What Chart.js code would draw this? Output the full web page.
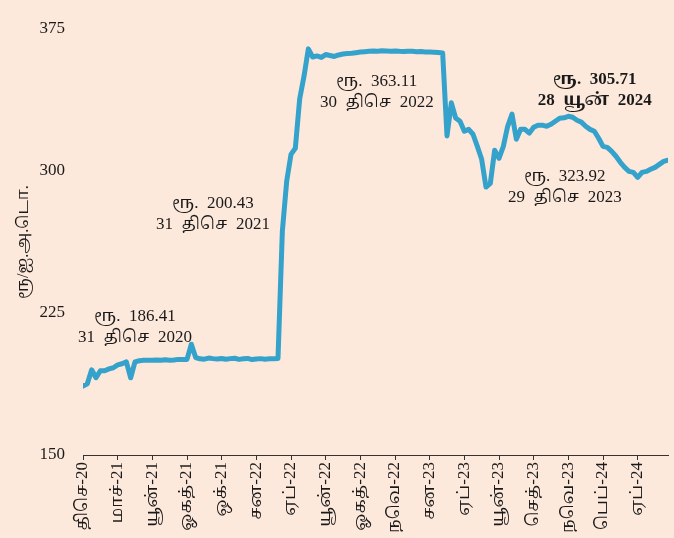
<!DOCTYPE html>
<html>
<head>
<meta charset="utf-8">
<script src="https://cdn.jsdelivr.net/npm/chart.js@4.4.1/dist/chart.umd.min.js"></script>
<style>
    html, body { margin: 0; padding: 0; background: #fde9dc; }
    #wrap { width: 674px; height: 538px; }
</style>
</head>
<body>
<div id="wrap"><canvas id="chart" width="674" height="538"></canvas></div>
<script>
// Data
const tickLabels = ['திசெ-20', 'மாச்-21', 'யூன்-21', 'ஓகத்-21', 'ஒக்-21', 'சன-22', 'ஏப்-22', 'யூன்-22', 'ஓகத்-22',
    'நவெ-22', 'சன-23', 'ஏப்-23', 'யூன்-23', 'செத்-23', 'நவெ-23', 'பெப்-24', 'ஏப்-24'];
const pointsPerTick = 8;

// Rs per US$ (roughly weekly)
const rates = [
    186.4, 187.6, 195.0, 190.8, 194.5, 194.5, 195.5, 196.1, 197.6, 198.2,
    199.2, 190.8, 199.2, 199.8, 200.0, 200.1, 200.0, 200.2, 200.0, 200.3,
    200.1, 200.2, 200.5, 200.4, 200.5, 208.5, 201.5, 200.8, 200.6, 201.2,
    200.9, 200.7, 201.0, 200.6, 200.9, 201.1, 200.5, 200.8, 201.0, 200.4,
    200.7, 200.9, 200.6, 200.8, 200.9, 201.0, 268.0, 294.5, 308.8, 312.0,
    338.0, 350.0, 364.5, 360.2, 360.8, 360.0, 361.5, 361.0, 360.5, 361.3,
    361.8, 362.0, 362.2, 362.5, 362.8, 363.0, 363.2, 363.4, 363.3, 363.5,
    363.4, 363.3, 363.4, 363.2, 363.1, 363.3, 363.2, 363.0, 363.1, 362.9,
    362.8, 362.7, 362.6, 362.3, 318.5, 336.0, 328.0, 326.3, 321.0, 322.0,
    319.4, 313.0, 306.2, 291.5, 293.5, 311.0, 306.7, 313.0, 323.6, 330.0,
    316.8, 322.0, 322.0, 320.0, 323.1, 324.2, 324.2, 323.6, 324.7, 326.3,
    327.9, 328.1, 328.9, 328.4, 326.8, 325.8, 323.6, 322.0, 321.0, 317.3,
    313.0, 312.5, 310.4, 307.8, 304.6, 301.9, 299.8, 299.3, 296.6, 299.3,
    299.8, 300.9, 301.9, 303.5, 305.1, 305.7
];

// Callouts: two lines each, centred on (index, value) of the first line
const noteTexts = [
    ['ரூ.  186.41', '31  திசெ  2020'],
    ['ரூ.  200.43', '31  திசெ  2021'],
    ['ரூ.  363.11', '30  திசெ  2022'],
    ['ரூ.  323.92', '29  திசெ  2023'],
    ['ரூ.  305.71', '28  யூன்  2024']
];
const noteIndex = [12.0, 30.0, 67.8, 111.2, 118.1];
const noteValue = [223.1, 283.0, 347.5, 297.2, 348.4];
const noteBold = [false, false, false, false, true];

const serif = "'Liberation Serif', 'Noto Serif Tamil', 'Noto Sans Tamil', 'Lohit Tamil', 'Latha', serif";
const ink = '#1a1a1a';

const notesPlugin = {
    id: 'notes',
    afterDatasetsDraw(chart) {
        const ctx = chart.ctx;
        const xs = chart.scales.x, ys = chart.scales.y;
        ctx.save();
        ctx.fillStyle = ink;
        ctx.textAlign = 'center';
        ctx.textBaseline = 'middle';
        noteTexts.forEach((lines, i) => {
            ctx.font = (noteBold[i] ? 'bold ' : '') + '17px ' + serif;
            const x = xs.getPixelForValue(noteIndex[i]);
            const y = ys.getPixelForValue(noteValue[i]);
            lines.forEach((t, j) => ctx.fillText(t, x, y + j * 21));
        });
        ctx.restore();
    }
};

new Chart(document.getElementById('chart'), {
    type: 'line',
    data: {
        datasets: [{
            data: rates.map((v, i) => ({ x: i, y: v })),
            borderColor: '#34a2cb',
            borderWidth: 5,
            borderJoinStyle: 'round',
            borderCapStyle: 'round',
            pointRadius: 0,
            tension: 0,
            fill: false
        }]
    },
    options: {
        responsive: false,
        animation: false,
        layout: { padding: { left: 14, right: 6, top: 29, bottom: 0 } },
        plugins: { legend: { display: false }, tooltip: { enabled: false } },
        scales: {
            x: {
                type: 'linear',
                min: 0,
                max: rates.length - 1,
                afterBuildTicks: (scale) => {
                    scale.ticks = tickLabels.map((_, i) => ({ value: i * pointsPerTick }));
                },
                afterFit: (scale) => { scale.height = 83; },
                ticks: {
                    autoSkip: false,
                    maxRotation: 90,
                    minRotation: 90,
                    padding: 2,
                    color: ink,
                    font: { family: serif, size: 17 },
                    callback: (v, i) => tickLabels[i]
                },
                grid: { display: true, drawOnChartArea: false, tickLength: 5, tickColor: '#333', tickWidth: 1 },
                border: { display: true, color: '#333', width: 1 }
            },
            y: {
                min: 150,
                max: 375,
                afterBuildTicks: (scale) => {
                    scale.ticks = [150, 225, 300, 375].map(v => ({ value: v }));
                },
                afterFit: (scale) => { scale.width = 69; },
                ticks: { color: ink, padding: 10, font: { family: serif, size: 17 } },
                grid: { display: false },
                border: { display: false },
                title: {
                    display: true,
                    text: 'ரூ/ஐ.அ.டொ.',
                    color: ink,
                    padding: 0,
                    font: { family: serif, size: 16 }
                }
            }
        }
    },
    plugins: [notesPlugin]
});
</script>
</body>
</html>
